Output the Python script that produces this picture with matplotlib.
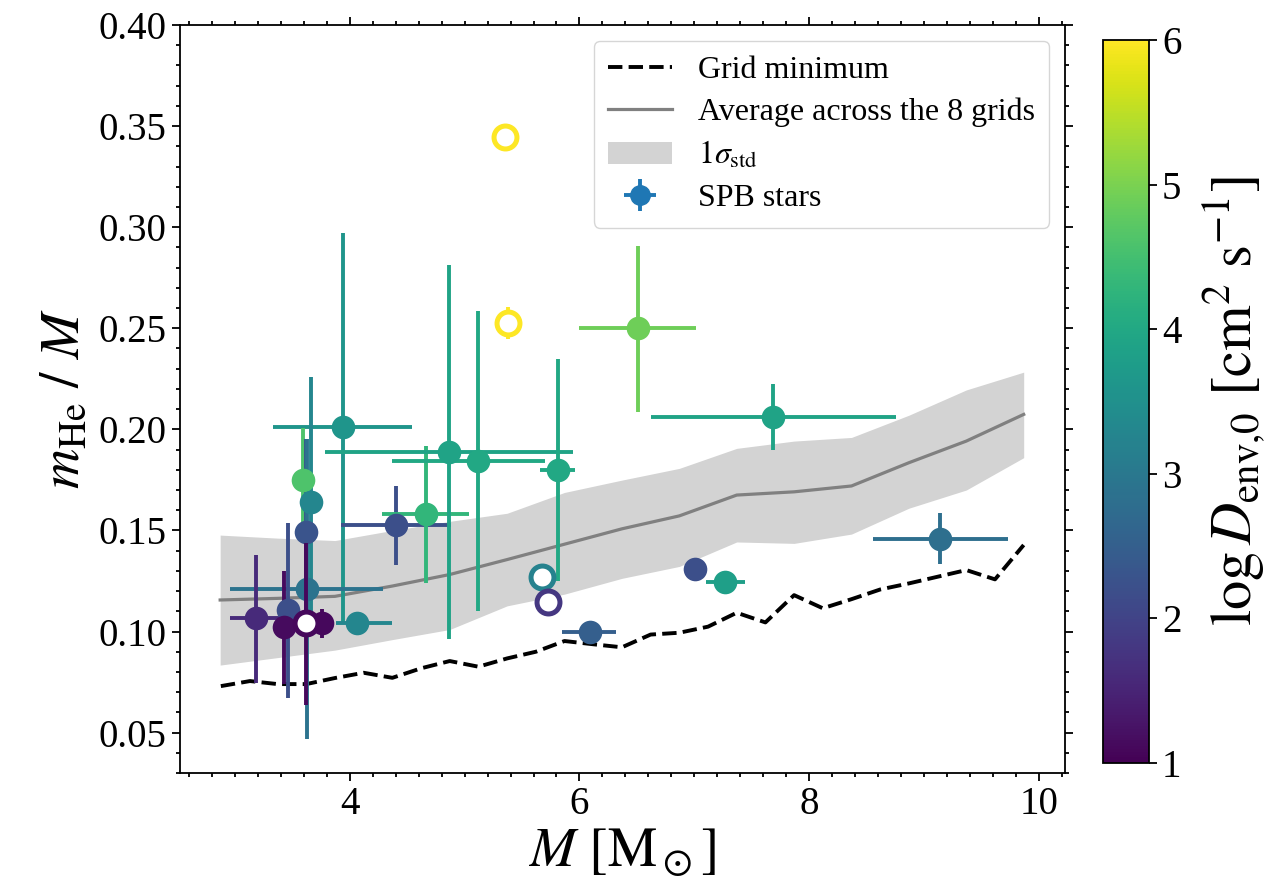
import numpy as np
import matplotlib.pyplot as plt
from matplotlib.colors import Normalize
from matplotlib.ticker import MultipleLocator

plt.rcParams['font.family'] = ['Liberation Serif', 'DejaVu Serif']
plt.rcParams['mathtext.fontset'] = 'stix'

# grid minimum (dashed)
grid_mass = [2.876, 3.13, 3.37, 3.62, 3.87, 4.12, 4.37, 4.62, 4.87, 5.12,
             5.37, 5.62, 5.87, 6.12, 6.37, 6.62, 6.87, 7.12, 7.37, 7.62,
             7.87, 8.12, 8.37, 8.62, 8.87, 9.12, 9.37, 9.62, 9.87]
grid_min = [0.0730, 0.0755, 0.0740, 0.0740, 0.0770, 0.0796, 0.0771, 0.0818, 0.0854, 0.0826,
            0.0867, 0.0900, 0.0953, 0.0937, 0.0922, 0.0985, 0.0994, 0.1024, 0.1093, 0.1045,
            0.1180, 0.1115, 0.1160, 0.1208, 0.1238, 0.1271, 0.1304, 0.1258, 0.1428]

# average across the grids and 1 sigma band
avg_mass = [2.87, 3.37, 3.87, 4.37, 4.87, 5.37, 5.87, 6.37, 6.87, 7.37, 7.87, 8.37, 8.87, 9.37, 9.87]
avg_mhe = [0.1156, 0.1164, 0.1174, 0.1225, 0.1282, 0.1356, 0.1432, 0.1508, 0.1572, 0.1675,
           0.1691, 0.1720, 0.1835, 0.1942, 0.2074]
band_hi = [0.1477, 0.1462, 0.1450, 0.1500, 0.1545, 0.1585, 0.1688, 0.1749, 0.1807, 0.1906,
           0.1942, 0.1960, 0.2070, 0.2195, 0.2283]
band_lo = [0.0834, 0.0871, 0.0908, 0.0960, 0.1010, 0.1127, 0.1185, 0.1263, 0.1322, 0.1443,
           0.1436, 0.1482, 0.1610, 0.1700, 0.1860]

# SPB stars
star_m = [3.94, 3.59, 3.66, 3.62, 3.63, 3.46, 3.18, 3.43, 3.62, 3.76,
          4.06, 4.40, 4.66, 4.86, 5.12, 5.81, 5.38, 5.35, 6.51, 7.69,
          5.67, 5.73, 6.09, 7.01, 7.27, 9.14]
star_m_lo = [3.33, 3.59, 3.66, 3.62, 2.96, 3.46, 2.96, 3.43, 3.62, 3.71,
             3.88, 3.92, 4.28, 3.785, 4.37, 5.66, 5.38, 5.35, 6.00, 6.626,
             5.67, 5.73, 5.85, 7.01, 7.10, 8.56]
star_m_hi = [4.54, 3.59, 3.66, 3.62, 4.29, 3.46, 3.39, 3.43, 3.62, 3.81,
             4.37, 4.88, 5.04, 5.94, 5.70, 5.96, 5.38, 5.35, 7.015, 8.754,
             5.67, 5.73, 6.32, 7.01, 7.44, 9.73]
star_y = [0.201, 0.175, 0.164, 0.149, 0.121, 0.1106, 0.1068, 0.102, 0.104, 0.104,
          0.1043, 0.1525, 0.158, 0.189, 0.1845, 0.180, 0.2527, 0.3446, 0.250, 0.206,
          0.127, 0.1144, 0.0999, 0.131, 0.1243, 0.1459]
star_y_lo = [0.104, 0.150, 0.102, 0.103, 0.047, 0.067, 0.0747, 0.074, 0.0637, 0.097,
             0.1043, 0.1327, 0.124, 0.0961, 0.110, 0.125, 0.2447, 0.3446, 0.2087, 0.1896,
             0.127, 0.1144, 0.0999, 0.131, 0.1243, 0.1332]
star_y_hi = [0.297, 0.2006, 0.226, 0.195, 0.195, 0.1535, 0.138, 0.130, 0.144, 0.111,
             0.1043, 0.172, 0.192, 0.2813, 0.2585, 0.2346, 0.2607, 0.3446, 0.2907, 0.2224,
             0.127, 0.1144, 0.0999, 0.131, 0.1243, 0.1585]
star_logD = [3.6, 4.6, 3.3, 2.3, 2.9, 2.2, 1.6, 1.15, 1.1, 1.1,
             3.3, 2.2, 4.3, 3.9, 4.0, 4.0, 6.0, 6.0, 4.9, 3.9,
             3.2, 1.8, 2.5, 2.2, 3.8, 2.8]
star_open = [False, False, False, False, False, False, False, False, True, False,
             False, False, False, False, False, False, True, True, False, False,
             True, True, False, False, False, False]

fig = plt.figure(figsize=(12.81, 8.94), dpi=100)
ax = fig.add_axes([0.1405, 0.1353, 0.6909, 0.8367])
cax = fig.add_axes([0.861, 0.1465, 0.0359, 0.8087])

cmap = plt.get_cmap('viridis')
norm = Normalize(vmin=1, vmax=6)

ax.fill_between(avg_mass, band_lo, band_hi, color='lightgray', lw=0, zorder=1,
                label=r'$1\sigma_{\rm std}$')
ax.plot(avg_mass, avg_mhe, color='gray', lw=2.3, zorder=2, label='Average across the 8 grids')
ax.plot(grid_mass, grid_min, 'k--', lw=2.8, zorder=2, label='Grid minimum')

for i in range(len(star_m)):
    c = cmap(norm(star_logD[i]))
    xe = [[star_m[i] - star_m_lo[i]], [star_m_hi[i] - star_m[i]]]
    ye = [[star_y[i] - star_y_lo[i]], [star_y_hi[i] - star_y[i]]]
    if star_open[i]:
        ax.errorbar(star_m[i], star_y[i], xerr=xe, yerr=ye, fmt='o', color=c, ecolor=c,
                    elinewidth=2.8, ms=16.5, mfc='white', mec=c, mew=3.6, zorder=4)
    else:
        ax.errorbar(star_m[i], star_y[i], xerr=xe, yerr=ye, fmt='o', color=c, ecolor=c,
                    elinewidth=2.8, ms=17, mew=0, zorder=3)

ax.errorbar([np.nan], [np.nan], xerr=[0.1], yerr=[0.01], fmt='o', color='C0',
            ms=14, elinewidth=2.8, label='SPB stars')

h, l = ax.get_legend_handles_labels()
order = [l.index('Grid minimum'), l.index('Average across the 8 grids'),
         l.index(r'$1\sigma_{\rm std}$'), l.index('SPB stars')]
ax.legend([h[k] for k in order], [l[k] for k in order], loc='upper right', fontsize=23,
          handlelength=2.0, borderpad=0.45, labelspacing=0.4)

ax.set_xlim(2.52, 10.23)
ax.set_ylim(0.03, 0.40)
ax.xaxis.set_major_locator(MultipleLocator(2))
ax.xaxis.set_minor_locator(MultipleLocator(0.2))
ax.yaxis.set_major_locator(MultipleLocator(0.05))
ax.yaxis.set_minor_locator(MultipleLocator(0.01))
ax.yaxis.set_major_formatter(plt.FormatStrFormatter('%.2f'))
ax.tick_params(which='both', direction='out', top=True, right=True, labelsize=28, width=1.3)
ax.tick_params(which='major', length=6)
ax.tick_params(which='minor', length=3)
for s in ax.spines.values():
    s.set_linewidth(1.3)

ax.set_xlabel(r'$M\ [\rm M_\odot]$', fontsize=40, labelpad=2)
ax.set_ylabel(r'$m_{\rm He}\ /\ M$', fontsize=40, labelpad=6)

sm = plt.cm.ScalarMappable(norm=norm, cmap=cmap)
cb = fig.colorbar(sm, cax=cax)
cb.set_ticks([1, 2, 3, 4, 5, 6])
cb.ax.tick_params(labelsize=28, length=6, width=1.3)
cb.outline.set_linewidth(1.3)
cb.set_label(r'$\log D_{\rm env{,}0}\ [\rm cm^2\ s^{-1}]$', fontsize=42, labelpad=14)

fig.savefig('out.png', dpi=100)
